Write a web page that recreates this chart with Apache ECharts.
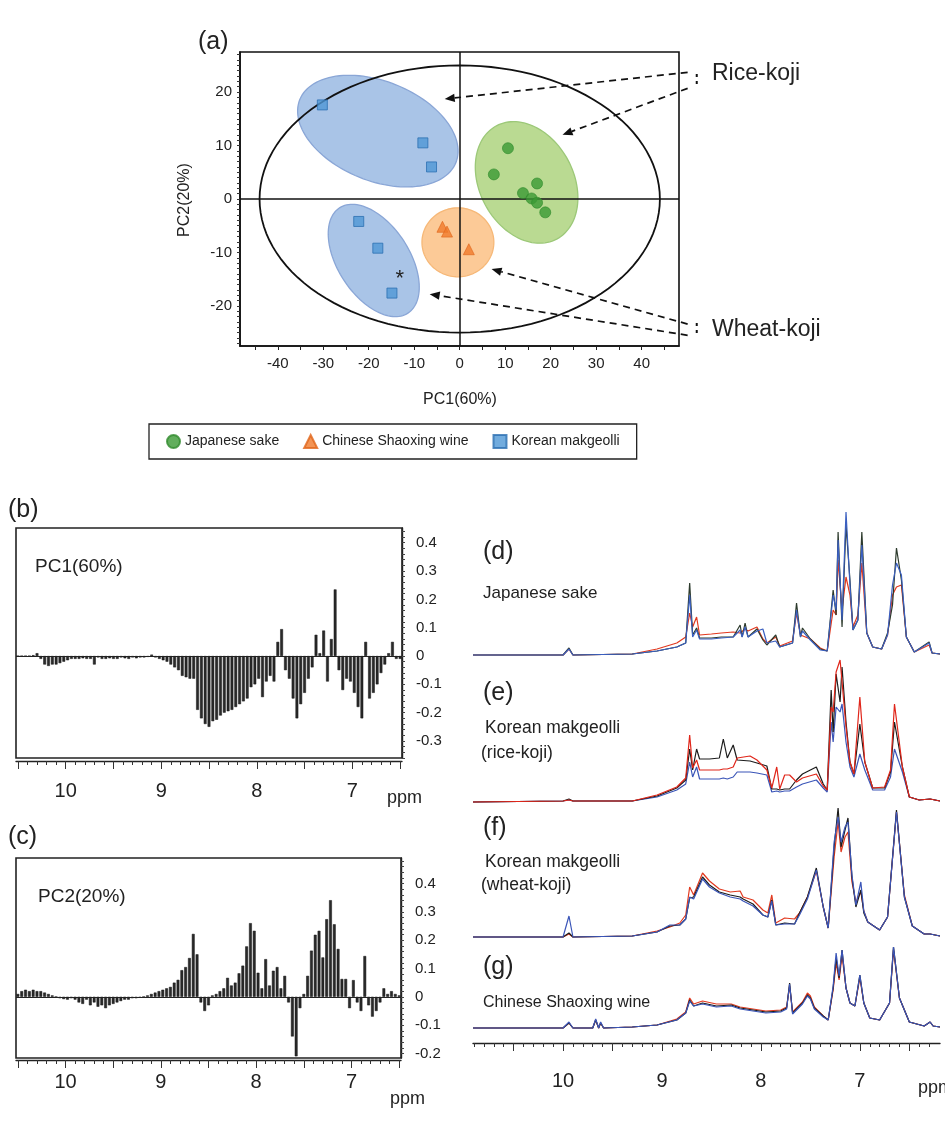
<!DOCTYPE html>
<html><head><meta charset="utf-8">
<script src="https://cdn.jsdelivr.net/npm/echarts@6/dist/echarts.min.js"></script>
<style>html,body{margin:0;padding:0;background:#fff}#c{width:945px;height:1139px}</style>
</head><body><div id="c"></div>
<script>
// ---------- (a) PCA score plot ----------
const sakePC1 = [10.6, 7.5, 17.0, 13.9, 15.8, 17.0, 18.8];
const sakePC2 = [9.5, 4.6, 2.9, 1.1, 0.1, -0.7, -2.5];
const shaoxingPC1 = [-3.8, -2.8, 2.0];
const shaoxingPC2 = [-5.2, -6.1, -9.4];
const makgeolliPC1 = [-30.2, -8.1, -6.2, -22.2, -18.0, -14.9];
const makgeolliPC2 = [17.6, 10.5, 6.0, -4.2, -9.2, -17.6];
const asteriskPoint = [-13.2, -15.0];
// group ellipses: [centerPC1, centerPC2, semiAxisA (PC1 units), semiAxisB (PC2 units), tilt deg]
const groupEllipses = [
  [-18.0, 12.7, 18.5, 9.3, 22],
  [-18.9, -11.5, 13.8, 6.7, 57],
  [-0.4, -8.1, 7.9, 6.45, 0],
  [14.7, 3.1, 14.1, 8.8, 62]
];
const hotellingEllipse = [[0, 0, 44, 25, 0]];
// annotation arrows: [x1, y1, x2, y2, head]
const kojiArrows = [
  [50.1, 23.7, -3.3, 18.7, 1],
  [50.1, 20.7, 22.6, 12.0, 1],
  [52.1, 23.4, 52.1, 21.2, 0],
  [50.1, -23.4, 7.0, -13.1, 1],
  [50.1, -25.5, -6.6, -17.8, 1],
  [52.1, -23.2, 52.1, -25.6, 0]
];
const scoreXTicks = [-40, -30, -20, -10, 0, 10, 20, 30, 40];
const scoreYTicks = [-20, -10, 0, 10, 20];

// ---------- (b)(c) loadings ----------
const loadingPpm = [10.50,10.46,10.42,10.38,10.34,10.30,10.26,10.22,10.18,10.14,
10.10,10.06,10.02,9.98,9.94,9.90,9.86,9.82,9.78,9.74,
9.70,9.66,9.62,9.58,9.54,9.50,9.46,9.42,9.38,9.34,
9.30,9.26,9.22,9.18,9.14,9.10,9.06,9.02,8.98,8.94,
8.90,8.86,8.82,8.78,8.74,8.70,8.66,8.62,8.58,8.54,
8.50,8.46,8.42,8.38,8.34,8.30,8.26,8.22,8.18,8.14,
8.10,8.06,8.02,7.98,7.94,7.90,7.86,7.82,7.78,7.74,
7.70,7.66,7.62,7.58,7.54,7.50,7.46,7.42,7.38,7.34,
7.30,7.26,7.22,7.18,7.14,7.10,7.06,7.02,6.98,6.94,
6.90,6.86,6.82,6.78,6.74,6.70,6.66,6.62,6.58,6.54,
6.50];
const pc1Loading = [0,0,0,0,0.003,0.01,-0.01,-0.03,-0.035,-0.03,
-0.03,-0.025,-0.02,-0.015,-0.01,-0.01,-0.01,-0.008,-0.01,-0.01,
-0.03,-0.005,-0.01,-0.01,-0.008,-0.01,-0.01,-0.005,-0.008,-0.01,
-0.005,-0.008,-0.005,-0.005,-0.003,0.005,-0.005,-0.01,-0.015,-0.02,
-0.03,-0.04,-0.05,-0.07,-0.075,-0.08,-0.08,-0.19,-0.22,-0.24,
-0.25,-0.23,-0.225,-0.21,-0.2,-0.195,-0.19,-0.18,-0.17,-0.16,
-0.15,-0.11,-0.1,-0.08,-0.145,-0.09,-0.07,-0.09,0.05,0.095,
-0.05,-0.08,-0.15,-0.22,-0.17,-0.13,-0.08,-0.04,0.075,0.01,
0.09,-0.09,0.06,0.235,-0.05,-0.12,-0.08,-0.09,-0.13,-0.18,
-0.22,0.05,-0.15,-0.13,-0.1,-0.06,-0.03,0.01,0.05,-0.01,
-0.01];
const pc2Loading = [0.01,0.02,0.025,0.02,0.025,0.02,0.02,0.015,0.01,0.005,
0,-0.005,-0.008,-0.01,-0.005,-0.01,-0.02,-0.025,-0.01,-0.03,
-0.02,-0.035,-0.03,-0.04,-0.03,-0.025,-0.02,-0.015,-0.01,-0.01,
-0.005,-0.005,-0.003,0,0.005,0.01,0.015,0.02,0.025,0.03,
0.035,0.05,0.06,0.094,0.105,0.137,0.222,0.15,-0.02,-0.05,
-0.03,0.005,0.01,0.02,0.03,0.067,0.04,0.05,0.083,0.11,
0.178,0.26,0.233,0.085,0.03,0.133,0.04,0.092,0.105,0.03,
0.074,-0.02,-0.14,-0.21,-0.04,0.01,0.074,0.163,0.219,0.233,
0.139,0.274,0.341,0.256,0.169,0.063,0.063,-0.04,0.059,-0.02,
-0.05,0.144,-0.03,-0.07,-0.05,-0.02,0.03,0.01,0.02,0.01,
0.005];
const loadingXLabels = [10, 9, 8, 7];
const pc1YLabels = [-0.3, -0.2, -0.1, 0, 0.1, 0.2, 0.3, 0.4];
const pc2YLabels = [-0.2, -0.1, 0, 0.1, 0.2, 0.3, 0.4];

// ---------- (d)-(g) 1H NMR spectra (intensity in arbitrary units) ----------
const specDppm = [10.91,10.00,9.94,9.90,9.30,9.05,8.85,8.76,8.72,8.69,8.65,8.62,8.50,8.40,8.28,8.21,8.19,8.16,8.13,8.04,7.98,7.94,7.85,7.81,7.68,7.64,7.60,7.58,7.50,7.40,7.33,7.27,7.24,7.22,7.18,7.14,7.10,7.07,7.02,6.98,6.93,6.87,6.78,6.72,6.67,6.63,6.58,6.53,6.45,6.30,6.27,6.19];
const specDblack = [0,0,7,0,1,4,8,12,72,20,27,17,17,18,18,30,18,32,18,26,15,10,20,8,12,52,18,27,16,6,4,65,40,123,28,130,75,25,35,123,22,8,6,22,50,107,75,18,3,13,2,1];
const specDred   = [0,0,6,0,1,6,12,18,42,28,38,20,21,22,23,22,24,26,24,28,16,12,18,9,14,42,20,22,16,7,4,45,40,95,45,78,60,28,40,92,22,8,6,20,60,68,70,18,3,10,2,1];
const specDblue  = [0,0,6,0,1,4,8,12,60,18,25,16,16,17,18,25,18,28,18,24,26,12,14,8,12,45,18,24,15,5,4,60,45,115,35,143,70,25,35,110,22,8,6,20,70,92,80,18,3,12,2,1];

const specEppm = [10.91,10.00,9.94,9.90,9.30,9.05,8.85,8.76,8.72,8.69,8.65,8.62,8.52,8.42,8.38,8.34,8.28,8.24,8.11,8.04,7.94,7.89,7.84,7.81,7.76,7.71,7.64,7.58,7.44,7.37,7.33,7.29,7.27,7.24,7.20,7.18,7.14,7.10,7.06,7.00,6.95,6.87,6.75,6.69,6.65,6.57,6.50,6.40,6.29,6.19];
const specEblack = [0,1,3,1,1,6,14,22,53,32,53,43,43,44,63,44,57,42,41,39,36,13,13,12,13,13,22,28,35,18,12,112,70,128,100,135,80,40,28,78,40,14,14,30,80,35,5,2,3,1];
const specEred   = [0,1,2,1,1,7,15,24,67,34,42,32,32,32,33,33,35,44,46,42,32,14,35,13,27,27,20,24,28,16,12,95,90,130,142,120,75,40,28,105,40,14,15,32,98,35,5,2,3,1];
const specEblue  = [0,1,2,1,1,5,12,18,40,25,35,23,23,23,24,23,25,30,30,29,27,10,11,10,11,11,15,18,22,14,10,80,60,95,90,98,60,35,25,48,32,12,12,25,53,30,5,2,3,1];

const specFppm = [10.91,10.00,9.94,9.90,9.30,9.05,8.92,8.82,8.76,8.72,8.68,8.59,8.52,8.42,8.31,8.21,8.18,8.08,7.98,7.93,7.89,7.85,7.76,7.66,7.61,7.53,7.44,7.37,7.32,7.26,7.22,7.19,7.15,7.12,7.08,7.04,6.99,6.96,6.92,6.80,6.72,6.63,6.55,6.47,6.35,6.29,6.19];
const specFblack = [0,0,4,0,1,5,11,12,18,39,40,60,52,45,42,40,38,33,22,20,37,12,14,13,24,40,69,30,9,90,129,90,107,119,60,30,47,24,15,7,20,127,40,11,3,3,1];
const specFred   = [0,0,3,0,1,6,10,14,22,50,42,64,56,48,45,46,40,37,27,24,42,14,19,18,24,40,66,30,9,80,115,85,100,105,55,35,45,26,15,7,20,125,42,11,3,3,1];
const specFblue  = [0,0,21,0,1,5,12,12,18,40,38,58,50,44,40,38,36,31,22,20,36,12,13,13,22,38,67,30,9,95,120,95,110,115,62,32,55,26,15,7,20,125,40,11,3,3,1];

const specGppm = [10.91,10.00,9.94,9.90,9.70,9.67,9.64,9.62,9.59,9.30,9.05,8.85,8.76,8.72,8.68,8.59,8.45,8.30,8.21,8.08,7.95,7.80,7.74,7.71,7.68,7.58,7.53,7.50,7.46,7.37,7.32,7.27,7.24,7.21,7.18,7.14,7.10,7.05,7.00,6.96,6.90,6.80,6.70,6.66,6.60,6.50,6.35,6.29,6.26,6.19];
const specGblack = [0,0,5,0,0,8,0,5,0,1,3,8,15,28,22,25,22,23,20,18,16,17,20,45,15,25,33,30,20,12,8,40,70,50,78,40,25,22,53,25,10,8,25,81,30,6,2,6,2,1];
const specGred   = [0,0,5,0,0,8,0,5,0,1,3,9,16,30,24,27,24,24,21,19,17,18,21,42,16,26,35,32,21,12,8,38,65,48,72,40,25,22,50,25,10,8,25,78,30,6,2,6,2,1];
const specGblue  = [0,0,6,0,0,9,0,6,0,1,3,8,15,27,22,24,21,22,19,17,15,16,19,44,14,24,32,29,19,11,8,42,75,52,78,40,25,22,53,25,10,8,25,81,30,6,2,6,2,1];
const spectraXLabels = [10, 9, 8, 7];

// ---------- helpers ----------
const FONT = '"Liberation Sans", Arial, sans-serif';
const zip = (a, b) => a.map((v, i) => [v, b[i]]);
const groupStyles = [
  {fill: 'rgba(160,190,228,0.9)', stroke: '#8aa6d6'},
  {fill: 'rgba(160,190,228,0.9)', stroke: '#8aa6d6'},
  {fill: 'rgba(252,196,140,0.9)', stroke: '#f6b878'},
  {fill: 'rgba(178,214,134,0.9)', stroke: '#9cc878'}
];
function ellipsePoints(api) {
  const c = api.coord([api.value(0), api.value(1)]);
  const rx = api.size([api.value(2), 0])[0];
  const ry = api.size([0, api.value(3)])[1];
  const ang = api.value(4) * Math.PI / 180;
  const pts = [];
  for (let k = 0; k < 120; k++) {
    const t = k / 120 * Math.PI * 2;
    const x = rx * Math.cos(t), y = ry * Math.sin(t);
    pts.push([c[0] + x * Math.cos(ang) - y * Math.sin(ang), c[1] + x * Math.sin(ang) + y * Math.cos(ang)]);
  }
  return pts;
}
function rangeTicks(a, b, step) { const r = []; for (let v = a; v <= b + 1e-9; v += step) r.push(Math.round(v * 1000) / 1000); return r; }

const chart = echarts.init(document.getElementById('c'), null, {renderer: 'canvas'});

const spectraBase = [655, 802, 937, 1028];
const SPEC_H = 150;
const grids = [
  {left: 240, top: 52, width: 439, height: 294, show: true, borderColor: '#111', borderWidth: 1.6},
  {left: 16, top: 528, width: 386, height: 230, show: true, borderColor: '#222', borderWidth: 1.6},
  {left: 16, top: 858, width: 385, height: 200, show: true, borderColor: '#222', borderWidth: 1.6}
];
spectraBase.forEach(b => grids.push({left: 473, width: 467, top: b - SPEC_H, height: SPEC_H, show: false}));

const loadX = (gi, major, offset, margin) => ({
  gridIndex: gi, type: 'value', inverse: true, min: 6.48, max: 10.52, position: 'bottom', offset: offset,
  axisLine: {show: major, onZero: false, lineStyle: {color: '#222', width: 1.4}},
  axisTick: {show: true, inside: false, length: major ? 8 : 4, customValues: major ? rangeTicks(6.5, 10.5, 0.5) : rangeTicks(6.5, 10.5, 0.1), lineStyle: {color: '#333', width: 1}},
  axisLabel: {show: major, customValues: loadingXLabels, fontSize: 20, color: '#222', fontFamily: FONT, margin: margin},
  splitLine: {show: false}
});
const specX = (gi, show, major) => ({
  gridIndex: gi, type: 'value', inverse: true, min: 6.19, max: 10.91, show: show, position: 'bottom', offset: 15,
  axisLine: {show: major, onZero: false, lineStyle: {color: '#222', width: 1.4}},
  axisTick: {show: true, inside: false, length: major ? 8 : 4, customValues: major ? rangeTicks(6.5, 10.5, 0.5) : rangeTicks(6.3, 10.9, 0.1), lineStyle: {color: '#333', width: 1}},
  axisLabel: {show: major, customValues: spectraXLabels, fontSize: 20, color: '#222', fontFamily: FONT, margin: 28},
  splitLine: {show: false}
});
const loadY = (gi, min, max, labels) => ({
  gridIndex: gi, type: 'value', position: 'right', min: min, max: max,
  axisLine: {show: true, lineStyle: {color: '#222', width: 1.4}},
  axisTick: {show: true, length: 3, customValues: rangeTicks(Math.ceil(min * 50) / 50, max, 0.02), lineStyle: {color: '#444'}},
  axisLabel: {customValues: labels, fontSize: 15, color: '#222', fontFamily: FONT, margin: 14,
    formatter: v => Math.abs(v) < 1e-9 ? '0' : v.toFixed(1)},
  splitLine: {show: false}
});

const xAxes = [
  {gridIndex: 0, type: 'value', min: -48.3, max: 48.2,
    axisLine: {onZero: false, lineStyle: {color: '#111', width: 1.6}},
    axisTick: {customValues: rangeTicks(-45, 45, 5), length: 4, lineStyle: {color: '#222'}},
    axisLabel: {customValues: scoreXTicks, fontSize: 15, color: '#222', fontFamily: FONT, margin: 10},
    splitLine: {show: false}},
  loadX(1, true, 3, 20), loadX(1, false, 3, 20),
  loadX(2, true, 2, 12), loadX(2, false, 2, 12),
  specX(3, false, false), specX(4, false, false), specX(5, false, false),
  specX(6, true, true), specX(6, true, false)
];
const yAxes = [
  {gridIndex: 0, type: 'value', min: -27.5, max: 27.5,
    axisLine: {onZero: false, lineStyle: {color: '#111', width: 1.6}},
    axisTick: {customValues: rangeTicks(-27, 27, 1), length: 3, lineStyle: {color: '#333'}},
    axisLabel: {customValues: scoreYTicks, fontSize: 15, color: '#222', fontFamily: FONT, margin: 8},
    splitLine: {show: false}},
  loadY(1, -0.36, 0.452, pc1YLabels),
  loadY(2, -0.216, 0.49, pc2YLabels)
];
for (let g = 3; g <= 6; g++) yAxes.push({gridIndex: g, type: 'value', min: 0, max: SPEC_H, show: false});

const series = [
  {type: 'custom', name: 'groups', xAxisIndex: 0, yAxisIndex: 0, z: 1, silent: true,
    data: groupEllipses,
    renderItem: (params, api) => ({type: 'polygon', shape: {points: ellipsePoints(api)},
      style: {fill: groupStyles[params.dataIndex].fill, stroke: groupStyles[params.dataIndex].stroke, lineWidth: 1.3}})},
  {type: 'custom', name: 'hotelling', xAxisIndex: 0, yAxisIndex: 0, z: 2, silent: true,
    data: hotellingEllipse,
    renderItem: (params, api) => ({type: 'polygon', shape: {points: ellipsePoints(api)},
      style: {fill: null, stroke: '#111', lineWidth: 1.8}})},
  {type: 'line', name: 'axes0', xAxisIndex: 0, yAxisIndex: 0, data: [], z: 3,
    markLine: {silent: true, symbol: 'none', label: {show: false}, animation: false,
      lineStyle: {color: '#111', width: 1.5, type: 'solid'}, data: [{xAxis: 0}, {yAxis: 0}]}},
  {type: 'custom', name: 'arrows', xAxisIndex: 0, yAxisIndex: 0, z: 4, silent: true, clip: false,
    data: kojiArrows,
    renderItem: (params, api) => {
      const p1 = api.coord([api.value(0), api.value(1)]);
      const p2 = api.coord([api.value(2), api.value(3)]);
      const head = api.value(4);
      const a = Math.atan2(p2[1] - p1[1], p2[0] - p1[0]);
      const L = 10, W = 4.2;
      const bx = p2[0] - L * Math.cos(a), by = p2[1] - L * Math.sin(a);
      const ch = [{type: 'line', shape: {x1: p1[0], y1: p1[1], x2: head ? bx : p2[0], y2: head ? by : p2[1]},
        style: {stroke: '#111', lineWidth: head ? 1.7 : 2, lineDash: head ? [7, 5] : [3, 4]}}];
      if (head) ch.push({type: 'polygon', shape: {points: [[p2[0], p2[1]], [bx - W * Math.sin(a), by + W * Math.cos(a)], [bx + W * Math.sin(a), by - W * Math.cos(a)]]}, style: {fill: '#111'}});
      return {type: 'group', children: ch};
    }},
  {type: 'custom', name: 'asterisk', xAxisIndex: 0, yAxisIndex: 0, z: 6, silent: true,
    data: [asteriskPoint],
    renderItem: (params, api) => {
      const p = api.coord([api.value(0), api.value(1)]);
      return {type: 'text', x: p[0], y: p[1], style: {text: '*', fontSize: 22, fontFamily: FONT, fill: '#222', align: 'center', verticalAlign: 'middle'}};
    }},
  {type: 'scatter', name: 'Japanese sake', xAxisIndex: 0, yAxisIndex: 0, z: 5, symbol: 'circle', symbolSize: 11,
    itemStyle: {color: '#3b9a35', borderColor: '#2f8a2c', borderWidth: 0.8}, data: zip(sakePC1, sakePC2)},
  {type: 'scatter', name: 'Chinese Shaoxing wine', xAxisIndex: 0, yAxisIndex: 0, z: 5, symbol: 'triangle', symbolSize: 11,
    itemStyle: {color: '#f0792a', borderColor: '#e0651a', borderWidth: 0.8}, data: zip(shaoxingPC1, shaoxingPC2)},
  {type: 'scatter', name: 'Korean makgeolli', xAxisIndex: 0, yAxisIndex: 0, z: 5, symbol: 'rect', symbolSize: 10,
    itemStyle: {color: '#4f97d6', borderColor: '#2c6fb2', borderWidth: 1}, data: zip(makgeolliPC1, makgeolliPC2)},

  {type: 'bar', name: 'PC1 loading', xAxisIndex: 1, yAxisIndex: 1, barWidth: 2.8, z: 3, silent: true,
    itemStyle: {color: '#2a2a2a', borderColor: '#111', borderWidth: 0.5}, data: zip(loadingPpm, pc1Loading),
    markLine: {silent: true, symbol: 'none', label: {show: false}, animation: false, lineStyle: {color: '#222', width: 1, type: 'solid'}, data: [{yAxis: 0}]}},
  {type: 'bar', name: 'PC2 loading', xAxisIndex: 3, yAxisIndex: 2, barWidth: 2.8, z: 3, silent: true,
    itemStyle: {color: '#2a2a2a', borderColor: '#111', borderWidth: 0.5}, data: zip(loadingPpm, pc2Loading),
    markLine: {silent: true, symbol: 'none', label: {show: false}, animation: false, lineStyle: {color: '#222', width: 1, type: 'solid'}, data: [{yAxis: 0}]}}
];

const specSets = [
  [specDppm, [[specDred, '#e2391f'], [specDblack, '#2c3a2c'], [specDblue, '#3a5fc0']], 5, 3],
  [specEppm, [[specEblue, '#3a55b8'], [specEblack, '#1c1c1c'], [specEred, '#e0261a']], 6, 4],
  [specFppm, [[specFred, '#e2391f'], [specFblack, '#1c1c1c'], [specFblue, '#3a55b8']], 7, 5],
  [specGppm, [[specGred, '#e2391f'], [specGblack, '#1c1c1c'], [specGblue, '#3a55b8']], 8, 6]
];
specSets.forEach(([ppm, traces, xi, yi]) => {
  traces.forEach(([vals, col], k) => series.push({
    type: 'line', xAxisIndex: xi, yAxisIndex: yi, data: zip(ppm, vals), showSymbol: false, symbol: 'none',
    clip: false, silent: true, z: 3 + k, lineStyle: {color: col, width: 1.2}
  }));
});

const txt = (x, y, text, size, extra) => Object.assign({type: 'text', x: x, y: y,
  style: Object.assign({text: text, fontSize: size, fontFamily: FONT, fill: '#222', verticalAlign: 'middle'}, extra || {})});

const graphics = [
  txt(198, 42, '(a)', 25),
  txt(460, 400, 'PC1(60%)', 16, {align: 'center'}),
  txt(712, 74, 'Rice-koji', 23),
  txt(712, 330, 'Wheat-koji', 23),
  txt(8, 510, '(b)', 25),
  txt(35, 567, 'PC1(60%)', 19),
  txt(387, 798, 'ppm', 18),
  txt(8, 837, '(c)', 25),
  txt(38, 897, 'PC2(20%)', 19),
  txt(390, 1099, 'ppm', 18),
  txt(483, 552, '(d)', 25),
  txt(483, 593, 'Japanese sake', 17),
  txt(483, 693, '(e)', 25),
  txt(485, 728, 'Korean makgeolli', 17.5),
  txt(481, 753, '(rice-koji)', 17.5),
  txt(483, 828, '(f)', 25),
  txt(485, 862, 'Korean makgeolli', 17.5),
  txt(481, 885, '(wheat-koji)', 17.5),
  txt(483, 967, '(g)', 25),
  txt(483, 1003, 'Chinese Shaoxing wine', 16),
  txt(918, 1088, 'ppm', 18)
];
const yTitle = txt(185, 200, 'PC2(20%)', 16, {align: 'center'});
yTitle.rotation = Math.PI / 2;
graphics.push(yTitle);

chart.setOption({
  animation: false,
  backgroundColor: '#ffffff',
  textStyle: {fontFamily: FONT},
  grid: grids,
  xAxis: xAxes,
  yAxis: yAxes,
  legend: {
    left: 149, top: 424, orient: 'horizontal',
    borderColor: '#222', borderWidth: 1.3, padding: [10, 17, 10, 17], itemGap: 24,
    itemWidth: 13, itemHeight: 13,
    textStyle: {fontSize: 14, color: '#222', fontFamily: FONT},
    data: [{name: 'Japanese sake', icon: 'circle'}, {name: 'Chinese Shaoxing wine', icon: 'triangle'}, {name: 'Korean makgeolli', icon: 'rect'}],
    selectedMode: false
  },
  graphic: graphics,
  series: series
});
</script></body></html>
